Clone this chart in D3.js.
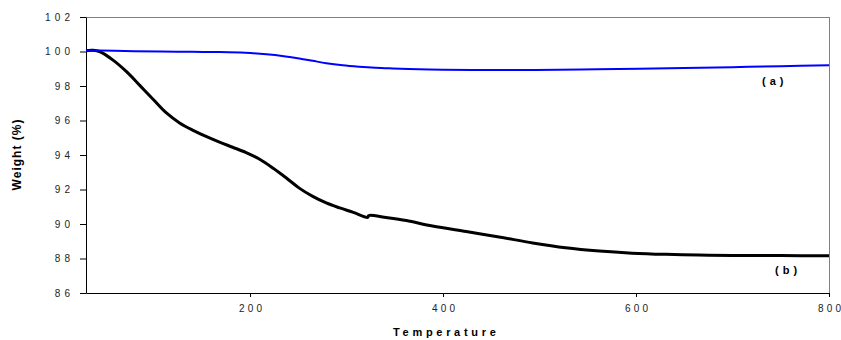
<!DOCTYPE html>
<html>
<head>
<meta charset="utf-8">
<script src="https://cdn.jsdelivr.net/npm/d3@7"></script>
<style>
  html, body { margin: 0; padding: 0; background: #fff; }
  svg { display: block; }
</style>
</head>
<body>
<svg id="chart" width="841" height="340"></svg>
<script>
// ---- data ----
const tempsA = [30, 45, 60, 80, 107, 140, 168, 195, 217, 235, 251, 265, 279, 296, 313, 330, 348, 375, 400, 430, 470, 520, 560, 603, 650, 700, 750, 800];
const weightA = [100.05, 100.06, 100.05, 100.02, 100.0, 99.98, 99.97, 99.93, 99.84, 99.73, 99.6, 99.46, 99.32, 99.2, 99.12, 99.06, 99.02, 98.97, 98.94, 98.93, 98.93, 98.94, 98.97, 99.0, 99.04, 99.09, 99.15, 99.2];

const tempsB = [30, 37, 44, 58, 72, 86, 100, 113, 127, 141, 155, 169, 182, 196, 210, 224, 238, 251, 265, 279, 293, 307, 322, 322.8, 324, 341, 362, 389, 424, 458, 493, 527, 562, 596, 631, 665, 700, 750, 800];
const weightB = [100.05, 100.07, 100.0, 99.5, 98.83, 98.02, 97.2, 96.45, 95.86, 95.43, 95.06, 94.73, 94.45, 94.14, 93.75, 93.23, 92.65, 92.08, 91.6, 91.22, 90.93, 90.67, 90.38, 90.48, 90.5, 90.38, 90.2, 89.88, 89.56, 89.25, 88.9, 88.62, 88.43, 88.31, 88.24, 88.2, 88.18, 88.17, 88.16];

const yTicks = [86, 88, 90, 92, 94, 96, 98, 100, 102];
const xTicks = [200, 400, 600, 800];
const seriesLabels = ["(a)", "(b)"];
const xTitle = "Temperature";
const yTitle = "Weight (%)";

(function () {
// ---- layout ----
const svg = d3.select("#chart");
const mLeft = 86, mRight = 829, mTop = 17, mBottom = 293;
const x = d3.scaleLinear().domain([30, 800]).range([mLeft, mRight]);
const y = d3.scaleLinear().domain([86, 102]).range([mBottom, mTop]);
const font = "'Liberation Sans', Arial, sans-serif";

// letter-spaced text without trailing space after last glyph
function spaced(sel, ls) {
  sel.each(function () {
    const t = d3.select(this);
    const s = t.text();
    t.text(null);
    t.append("tspan").attr("letter-spacing", ls + "px").text(s.slice(0, -1));
    t.append("tspan").text(s.slice(-1));
  });
}

// frame top and right (gray)
svg.append("line").attr("x1", mLeft).attr("x2", mRight).attr("y1", mTop + 0.5).attr("y2", mTop + 0.5)
  .attr("stroke", "#808080").attr("stroke-width", 1);
svg.append("line").attr("x1", mRight + 0.5).attr("x2", mRight + 0.5).attr("y1", mTop).attr("y2", mBottom)
  .attr("stroke", "#808080").attr("stroke-width", 1);

// y axis
const yAxis = svg.append("g").attr("transform", `translate(${mLeft},0)`)
  .call(d3.axisLeft(y).tickValues(yTicks).tickFormat(d3.format("d")).tickSize(6).tickPadding(10).tickSizeOuter(0));
yAxis.select(".domain").attr("stroke", "#000");
yAxis.selectAll(".tick line").attr("stroke", "#000");
yAxis.selectAll(".tick text").attr("font-family", font).attr("font-size", 10).attr("fill", "#222").call(spaced, 4.2);

// x axis
const xAxis = svg.append("g").attr("transform", `translate(0,${mBottom})`)
  .call(d3.axisBottom(x).tickValues(xTicks).tickFormat(d3.format("d")).tickSize(4).tickPadding(8).tickSizeOuter(0));
xAxis.select(".domain").attr("stroke", "#000");
xAxis.selectAll(".tick line").attr("stroke", "#000");
xAxis.selectAll(".tick text").attr("font-family", font).attr("font-size", 10).attr("fill", "#222").call(spaced, 3.2);

// lines
const lineGen = d3.line().x(d => x(d[0])).y(d => y(d[1])).curve(d3.curveCatmullRom.alpha(0.5));
const dataA = tempsA.map((t, i) => [t, weightA[i]]);
const dataB = tempsB.map((t, i) => [t, weightB[i]]);

svg.append("path").datum(dataB).attr("d", lineGen)
  .attr("fill", "none").attr("stroke", "#000").attr("stroke-width", 3).attr("stroke-linejoin", "round");
svg.append("path").datum(dataA).attr("d", lineGen)
  .attr("fill", "none").attr("stroke", "#0000ff").attr("stroke-width", 2).attr("stroke-linejoin", "round");

// series labels
svg.append("text").attr("x", 762).attr("y", 85).text(seriesLabels[0])
  .attr("font-family", font).attr("font-size", 11).attr("font-weight", "bold").call(spaced, 4);
svg.append("text").attr("x", 775).attr("y", 274).text(seriesLabels[1])
  .attr("font-family", font).attr("font-size", 11).attr("font-weight", "bold").call(spaced, 4);

// axis titles
svg.append("text").attr("x", 393).attr("y", 336).text(xTitle)
  .attr("font-family", font).attr("font-size", 11).attr("font-weight", "bold").call(spaced, 3.7);
svg.append("text").attr("transform", "translate(21,155) rotate(-90)").attr("text-anchor", "middle").text(yTitle)
  .attr("font-family", font).attr("font-size", 12).attr("font-weight", "bold").call(spaced, 1);
})();
</script>
</body>
</html>
